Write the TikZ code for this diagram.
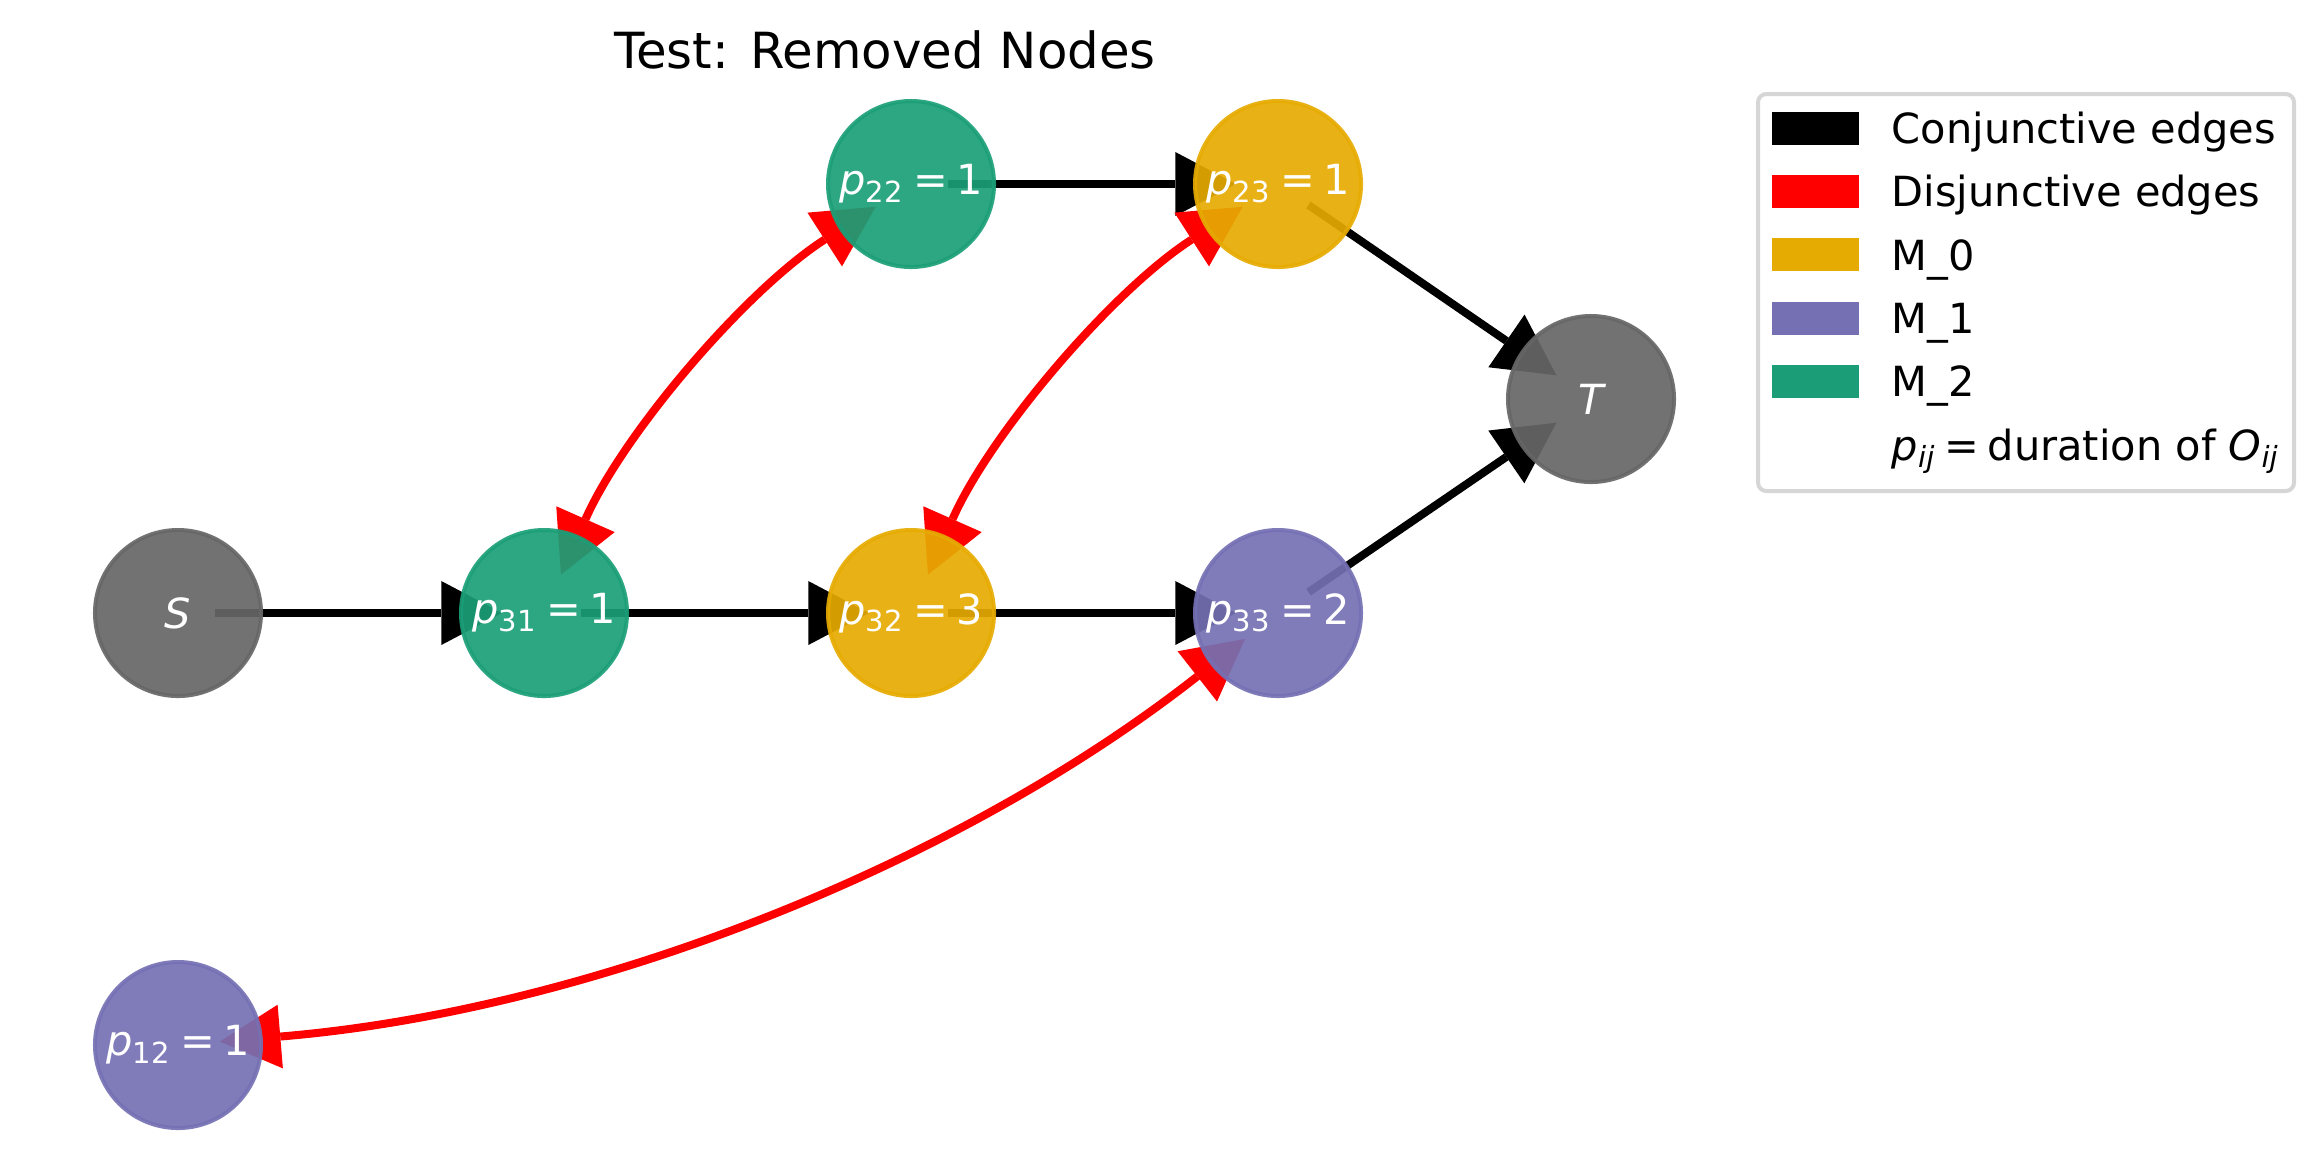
\documentclass[tikz,border=0pt]{standalone}
\usepackage{fontspec}
\setmainfont{DejaVu Sans}
\usetikzlibrary{arrows.meta,calc,backgrounds}
\definecolor{mzero}{HTML}{E6AB02}
\definecolor{mone}{HTML}{7570B3}
\definecolor{mtwo}{HTML}{1B9E77}
\definecolor{gnode}{HTML}{666666}
\definecolor{legedge}{HTML}{D6D6D6}
\newcommand\plab[2]{{\itshape p}\textsubscript{#1}\hspace{0.2em}=\hspace{0.2em}#2}
\begin{document}
\begin{tikzpicture}[x=0.2409pt,y=-0.2409pt,
  opnode/.style={circle, minimum size=40pt, inner sep=0pt, line width=0.964pt,
    fill opacity=0.92, draw opacity=0.92, text opacity=1, text=white,
    font=\fontsize{10pt}{12pt}\selectfont},
  conj/.style={line width=1.927pt, black,
    -{Triangle[length=14.6pt,width=15.4pt,line width=0pt]},
    shorten <=8.91pt, shorten >=10.12pt},
  disj/.style={line width=1.927pt, red,
    {Triangle[length=14.6pt,width=15.4pt,line width=0pt]}-{Triangle[length=14.6pt,width=15.4pt,line width=0pt]},
    shorten <=10.12pt, shorten >=10.12pt},
  legtext/.style={anchor=base west, inner sep=0pt, font=\fontsize{10pt}{12pt}\selectfont},
  legframe/.style={draw=legedge, line width=0.964pt, rounded corners=2pt, fill=white}]
\useasboundingbox (0,0) rectangle (2324,1166);

% title
\node[anchor=base, inner sep=0pt, font=\fontsize{12pt}{14pt}\selectfont] (title) at (885,68) {Test: Removed Nodes};

% nodes
\node[opnode, fill=gnode, draw=gnode] (S)   at (178,613)  {\itshape S};
\node[opnode, fill=mtwo,  draw=mtwo]  (p31) at (544,613)  {\plab{31}{1}};
\node[opnode, fill=mzero, draw=mzero] (p32) at (911,613)  {\plab{32}{3}};
\node[opnode, fill=mone,  draw=mone]  (p33) at (1278,613) {\plab{33}{2}};
\node[opnode, fill=mtwo,  draw=mtwo]  (p22) at (911,184)  {\plab{22}{1}};
\node[opnode, fill=mzero, draw=mzero] (p23) at (1278,184) {\plab{23}{1}};
\node[opnode, fill=gnode, draw=gnode] (T)   at (1591,399) {\itshape T};
\node[opnode, fill=mone,  draw=mone]  (p12) at (178,1045) {\plab{12}{1}};

% edges
\begin{scope}[on background layer]
\draw[conj] (S.center) -- (p31.center);
\draw[conj] (p31.center) -- (p32.center);
\draw[conj] (p32.center) -- (p33.center);
\draw[conj] (p33.center) -- (T.center);
\draw[conj] (p22.center) -- (p23.center);
\draw[conj] (p23.center) -- (T.center);

\coordinate (q1) at ($(p31.center)!0.5!(p22.center)!0.3!90:(p22.center)$);
\coordinate (q2) at ($(p32.center)!0.5!(p23.center)!0.3!90:(p23.center)$);
\coordinate (q3) at ($(p33.center)!0.5!(p12.center)!0.3!90:(p12.center)$);
\draw[disj] (p31.center) .. controls ($(p31.center)!2/3!(q1)$) and ($(p22.center)!2/3!(q1)$) .. (p22.center);
\draw[disj] (p32.center) .. controls ($(p32.center)!2/3!(q2)$) and ($(p23.center)!2/3!(q2)$) .. (p23.center);
\draw[disj] (p33.center) .. controls ($(p33.center)!2/3!(q3)$) and ($(p12.center)!2/3!(q3)$) .. (p12.center);
\end{scope}

% legend
\draw[legframe] (1758,94) rectangle (2294,491);
\fill[black] (1772,112) rectangle (1859,145);
\fill[red]   (1772,175) rectangle (1859,208);
\fill[mzero] (1772,238) rectangle (1859,271);
\fill[mone]  (1772,302) rectangle (1859,335);
\fill[mtwo]  (1772,365) rectangle (1859,398);
\node[legtext] (l1) at (1891,143.5) {Conjunctive edges};
\node[legtext] (l2) at (1891,206.8) {Disjunctive edges};
\node[legtext] (l3) at (1891,270.1) {M\_0};
\node[legtext] (l4) at (1891,333.4) {M\_1};
\node[legtext] (l5) at (1891,396.7) {M\_2};
\node[legtext] (l6) at (1891,460.0) {{\itshape p\textsubscript{ij}}\hspace{0.2em}=\hspace{0.2em}duration of {\itshape O\textsubscript{ij}}};
\end{tikzpicture}
\end{document}
